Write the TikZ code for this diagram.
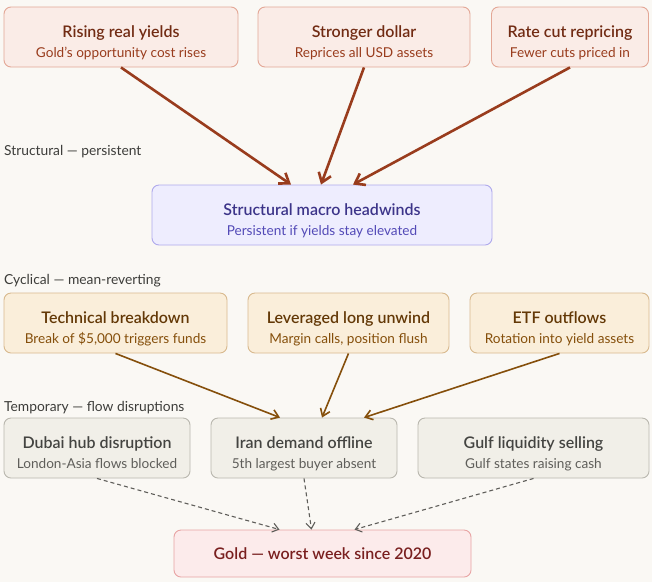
\documentclass[tikz,border=0pt]{standalone}
\usepackage{fontspec}
\setmainfont{Lato}[BoldFont={Lato Semibold}]
\usetikzlibrary{arrows.meta}
\definecolor{bgc}{HTML}{FAF8F4}
\definecolor{cofill}{HTML}{FAECE7}
\definecolor{codraw}{HTML}{E3A796}
\definecolor{cotitle}{HTML}{712B13}
\definecolor{cosub}{HTML}{993C1D}
\definecolor{coarrow}{HTML}{993C1D}
\definecolor{pufill}{HTML}{EEEDFE}
\definecolor{pudraw}{HTML}{AFA9EC}
\definecolor{putitle}{HTML}{3C3489}
\definecolor{pusub}{HTML}{534AB7}
\definecolor{amfill}{HTML}{FAEEDA}
\definecolor{amdraw}{HTML}{D8B98E}
\definecolor{amtitle}{HTML}{633806}
\definecolor{amsub}{HTML}{854F0B}
\definecolor{amarrow}{HTML}{854F0B}
\definecolor{grfill}{HTML}{F1EFE8}
\definecolor{grdraw}{HTML}{B9B7AE}
\definecolor{grtitle}{HTML}{444441}
\definecolor{grsub}{HTML}{5F5E5A}
\definecolor{grarrow}{HTML}{5F5E5A}
\definecolor{rdfill}{HTML}{FCEBEB}
\definecolor{rddraw}{HTML}{E8A3A3}
\definecolor{rdtitle}{HTML}{791F1F}
\definecolor{labc}{HTML}{3D3D3A}
\begin{document}
\begin{tikzpicture}[x=1pt,y=-1pt,
  box/.style={rectangle, rounded corners=7pt, line width=0.9pt, inner sep=0pt, minimum height=60pt},
  cobox/.style={box, fill=cofill, draw=codraw},
  pubox/.style={box, fill=pufill, draw=pudraw},
  ambox/.style={box, fill=amfill, draw=amdraw},
  grbox/.style={box, fill=grfill, draw=grdraw},
  rdbox/.style={box, fill=rdfill, draw=rddraw, minimum height=47pt},
  ttl/.style={anchor=base, inner sep=0pt, font=\fontsize{16}{19}\selectfont\bfseries},
  sub/.style={anchor=base, inner sep=0pt, font=\fontsize{13.6}{16}\selectfont},
  lab/.style={anchor=base west, inner sep=0pt, text=labc, font=\fontsize{13.8}{16}\selectfont},
  coarr/.style={draw=coarrow, line width=2.6pt, -{Straight Barb[length=9pt,width=13pt,line width=2.6pt]}},
  amarr/.style={draw=amarrow, line width=1.6pt, -{Straight Barb[length=7pt,width=10pt,line width=1.6pt]}},
  grarr/.style={draw=grarrow, line width=1.1pt, dash pattern=on 4pt off 3pt, -{Straight Barb[length=6pt,width=9pt,line width=1.1pt]}}
]
\fill[bgc] (0,0) rectangle (652,582);
\useasboundingbox (0,0) rectangle (652,582);

% Row 1
\node[cobox, minimum width=234pt] (r1a) at (121,37) {};
\node[cobox, minimum width=212pt] (r1b) at (364,37) {};
\node[cobox, minimum width=157pt] (r1c) at (570,37) {};
\node[ttl, text=cotitle] (r1at) at ([yshift=-0.5pt]r1a.center) {Rising real yields};
\node[sub, text=cosub] (r1as) at ([yshift=-20pt]r1a.center) {Gold’s opportunity cost rises};
\node[ttl, text=cotitle] (r1bt) at ([yshift=-0.5pt]r1b.center) {Stronger dollar};
\node[sub, text=cosub] (r1bs) at ([yshift=-20pt]r1b.center) {Reprices all USD assets};
\node[ttl, text=cotitle] (r1ct) at ([yshift=-0.5pt]r1c.center) {Rate cut repricing};
\node[sub, text=cosub] (r1cs) at ([yshift=-20pt]r1c.center) {Fewer cuts priced in};

\node[lab] (l1) at (4,155) {Structural — persistent};

% Middle
\node[pubox, minimum width=340pt] (mid) at (322,215) {};
\node[ttl, text=putitle] (midt) at ([yshift=-0.5pt]mid.center) {Structural macro headwinds};
\node[sub, text=pusub] (mids) at ([yshift=-20pt]mid.center) {Persistent if yields stay elevated};

\node[lab] (l2) at (4,284) {Cyclical — mean-reverting};

% Row 3
\node[ambox, minimum width=223pt] (r3a) at (115.5,323) {};
\node[ambox, minimum width=201pt] (r3b) at (348.5,323) {};
\node[ambox, minimum width=179pt] (r3c) at (559.5,323) {};
\node[ttl, text=amtitle] (r3at) at ([yshift=-0.5pt]r3a.center) {Technical breakdown};
\node[sub, text=amsub] (r3as) at ([yshift=-20pt]r3a.center) {Break of \$5,000 triggers funds};
\node[ttl, text=amtitle] (r3bt) at ([yshift=-0.5pt]r3b.center) {Leveraged long unwind};
\node[sub, text=amsub] (r3bs) at ([yshift=-20pt]r3b.center) {Margin calls, position flush};
\node[ttl, text=amtitle] (r3ct) at ([yshift=-0.5pt]r3c.center) {ETF outflows};
\node[sub, text=amsub] (r3cs) at ([yshift=-20pt]r3c.center) {Rotation into yield assets};

\node[lab] (l3) at (4,411.5) {Temporary — flow disruptions};

% Row 4
\node[grbox, minimum width=186pt] (r4a) at (97,448) {};
\node[grbox, minimum width=186pt] (r4b) at (304,448) {};
\node[grbox, minimum width=231pt] (r4c) at (533.5,448) {};
\node[ttl, text=grtitle] (r4at) at ([yshift=-0.5pt]r4a.center) {Dubai hub disruption};
\node[sub, text=grsub] (r4as) at ([yshift=-20pt]r4a.center) {London-Asia flows blocked};
\node[ttl, text=grtitle] (r4bt) at ([yshift=-0.5pt]r4b.center) {Iran demand offline};
\node[sub, text=grsub] (r4bs) at ([yshift=-20pt]r4b.center) {5th largest buyer absent};
\node[ttl, text=grtitle] (r4ct) at ([yshift=-0.5pt]r4c.center) {Gulf liquidity selling};
\node[sub, text=grsub] (r4cs) at ([yshift=-20pt]r4c.center) {Gulf states raising cash};

% Gold
\node[rdbox, minimum width=297pt] (gold) at (322.5,553.5) {};
\node[ttl, text=rdtitle] (goldt) at ([yshift=-6pt]gold.center) {Gold — worst week since 2020};

% Connectors
\draw[coarr] (r1a.south) -- ([xshift=-31pt]mid.north);
\draw[coarr] (r1b.south) -- ([xshift=-1pt]mid.north);
\draw[coarr] (r1c.south) -- ([xshift=31pt]mid.north);
\draw[amarr] (r3a.south) -- ([xshift=-24pt]r4b.north);
\draw[amarr] (r3b.south) -- ([xshift=18pt]r4b.north);
\draw[amarr] (r3c.south) -- ([xshift=60pt]r4b.north);
\draw[grarr] (r4a.south) -- ([xshift=-43pt]gold.north);
\draw[grarr] (r4b.south) -- ([xshift=-11pt]gold.north);
\draw[grarr] (r4c.south) -- ([xshift=32pt]gold.north);
\end{tikzpicture}
\end{document}
